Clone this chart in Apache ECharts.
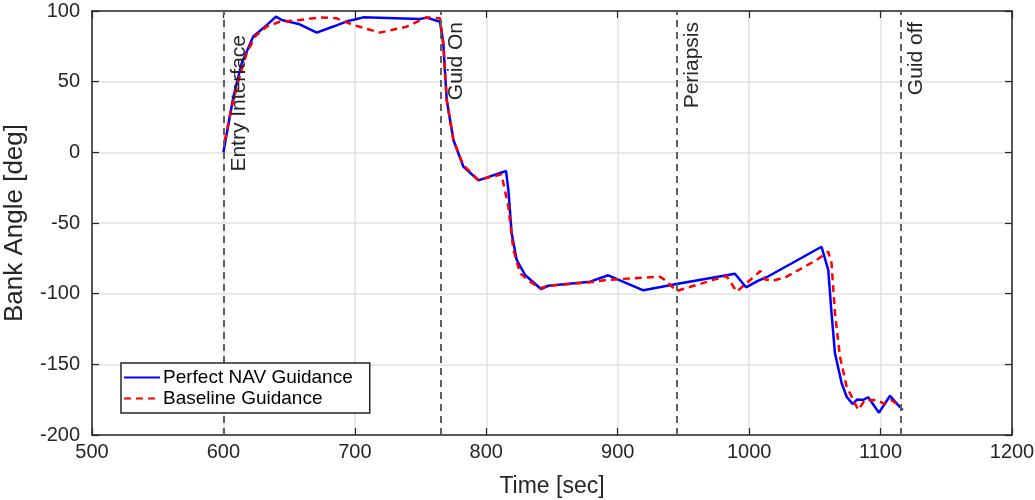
<!DOCTYPE html>
<html>
<head>
<meta charset="utf-8">
<script src="https://cdn.jsdelivr.net/npm/echarts@6/dist/echarts.min.js"></script>
<style>
  html, body { margin: 0; padding: 0; background: #fff; }
  #chart { width: 1035px; height: 500px; }
</style>
</head>
<body>
<div id="chart"></div>
<script>
// Bank angle history for the two guidance runs
const tPerfect = [600, 607.5, 613.9, 622.7, 632.9, 640, 644.3, 658, 671, 683.6, 695, 700, 706.4, 749.5, 754.6, 764.8, 767.3, 769.9, 775, 782.5, 794, 815, 816.8, 819.3, 823.1, 829.5, 841.6, 847.2, 879, 892.8, 919.5, 944.8, 989.2, 997.6, 1007, 1013.3, 1055.1, 1060.2, 1062.7, 1065.3, 1070.4, 1074.2, 1078.7, 1082.3, 1086.8, 1090.6, 1098.8, 1107.2, 1111, 1116.8];
const vPerfect = [0, 39, 63, 82, 90, 96, 93.6, 90.6, 84.7, 89, 93, 94, 95.5, 94.3, 95.3, 92.4, 77, 37, 8.7, -10, -19.8, -13.2, -26.6, -57.3, -76, -86.8, -96.7, -94.4, -91.5, -87, -97.6, -93.2, -85.9, -95.5, -90.8, -88.4, -66.8, -83.3, -113.9, -142.2, -163.4, -172.9, -178.1, -174.8, -175.2, -173.3, -184.2, -172.2, -176.4, -182.3];

const tBase = [601, 606.3, 612.6, 617.7, 624, 632.9, 643, 658, 673.5, 686.2, 698.8, 719.1, 739.4, 754.6, 764.8, 767.3, 769.9, 775, 782.5, 790, 794, 811.6, 816.8, 820.6, 825.7, 833.3, 840.9, 847.2, 879, 891.5, 909.3, 932.2, 936, 944.8, 982.8, 990.5, 1008.6, 1012, 1018.4, 1028.5, 1051.3, 1060.2, 1062.7, 1065.3, 1069.1, 1074.2, 1083, 1088.1, 1093.2, 1098.3, 1103, 1108.4, 1112.2];
const vBase = [8, 32, 54.7, 70, 82, 89, 92.4, 93.6, 95.5, 94.8, 90.1, 84.7, 88.9, 95.5, 94.8, 77, 37, 8.7, -9, -16, -19.5, -15.6, -38.5, -69, -85.6, -91.5, -96.2, -94.4, -92, -90.3, -89.2, -88, -90.3, -98.1, -87.5, -98.6, -84, -89.9, -90.8, -88, -76.2, -70.3, -78.5, -113.9, -144.6, -165.8, -182.3, -175.2, -175.2, -175.7, -178, -175.2, -178.1];

// Event markers
const eventTimes = [600, 765, 945, 1115];
const eventNames = ['Entry Interface', 'Guid On', 'Periapsis', 'Guid off'];
const eventTop = [35, 22, 22, 22];

const seriesNames = ['Perfect NAV Guidance', 'Baseline Guidance'];

const ink = '#262626';
const font = '"Liberation Sans", Arial, Helvetica, sans-serif';

function pairs(t, v) { return t.map((x, i) => [x, v[i]]); }
const plain = v => String(v);

const chart = echarts.init(document.getElementById('chart'), null, { renderer: 'canvas' });

const xBase = {
  type: 'value', min: 500, max: 1200, interval: 100,
  axisLine: { show: true, onZero: false, lineStyle: { color: ink, width: 1.5 } },
  axisTick: { show: true, inside: true, length: 7, lineStyle: { color: ink, width: 1.2 } },
};
const yBase = {
  type: 'value', min: -200, max: 100, interval: 50,
  axisLine: { show: true, onZero: false, lineStyle: { color: ink, width: 1.5 } },
  axisTick: { show: true, inside: true, length: 7, lineStyle: { color: ink, width: 1.2 } },
};

chart.setOption({
  animation: false,
  backgroundColor: '#fff',
  grid: { left: 92, right: 23, top: 11, bottom: 65, containLabel: false, outerBoundsMode: 'none' },
  xAxis: [
    Object.assign({}, xBase, {
      position: 'bottom',
      name: 'Time [sec]', nameLocation: 'middle', nameGap: 40,
      nameTextStyle: { fontFamily: font, fontSize: 23, color: ink },
      axisLabel: { fontFamily: font, fontSize: 20, color: ink, margin: 7, formatter: plain },
      splitLine: { show: true, lineStyle: { color: '#e2e2e2', width: 1.5 } }
    }),
    Object.assign({}, xBase, {
      position: 'top',
      axisLabel: { show: false },
      splitLine: { show: false }
    })
  ],
  yAxis: [
    Object.assign({}, yBase, {
      position: 'left',
      name: 'Bank Angle [deg]', nameLocation: 'middle', nameGap: 64, nameRotate: 90,
      nameTextStyle: { fontFamily: font, fontSize: 26, color: ink },
      axisLabel: { fontFamily: font, fontSize: 20, color: ink, margin: 12, formatter: plain },
      splitLine: { show: true, lineStyle: { color: '#e2e2e2', width: 1.5 } }
    }),
    Object.assign({}, yBase, {
      position: 'right',
      axisLabel: { show: false },
      splitLine: { show: false }
    })
  ],
  legend: {
    data: seriesNames,
    orient: 'vertical',
    left: 121, top: 363, z: 30,
    backgroundColor: '#fff',
    borderColor: ink, borderWidth: 1.5, borderRadius: 0,
    padding: [5, 17, 5, 2],
    itemGap: 2, itemWidth: 36, itemHeight: 19,
    itemStyle: { opacity: 0 },
    textStyle: { fontFamily: font, fontSize: 19, color: '#000', padding: [0, 0, 0, -2] }
  },
  series: [
    {
      name: 'events', type: 'line', data: [], z: 1, silent: true,
      markLine: {
        silent: true, symbol: 'none', animation: false,
        label: { show: false },
        lineStyle: { color: '#606060', type: [7, 5], width: 2 },
        data: eventTimes.map(t => ({ xAxis: t }))
      }
    },
    {
      name: seriesNames[0], type: 'line', z: 3,
      data: pairs(tPerfect, vPerfect),
      symbol: 'none', smooth: false,
      lineStyle: { color: '#0000ff', width: 2.5 },
      itemStyle: { color: '#0000ff' }
    },
    {
      name: seriesNames[1], type: 'line', z: 4,
      data: pairs(tBase, vBase),
      symbol: 'none', smooth: false,
      lineStyle: { color: '#ff0000', width: 2.5, type: [7, 5] },
      itemStyle: { color: '#ff0000' }
    }
  ]
});

// Rotated event captions, placed just right of each marker line
chart.setOption({
  graphic: eventNames.map((name, i) => {
    const px = chart.convertToPixel({ xAxisIndex: 0 }, eventTimes[i]);
    return {
      type: 'text', silent: true,
      x: px + 5, y: eventTop[i], rotation: Math.PI / 2,
      style: {
        text: name, fontFamily: font, fontSize: 21, fill: ink,
        align: 'right', verticalAlign: 'top'
      },
      z: 10
    };
  })
});
</script>
</body>
</html>
